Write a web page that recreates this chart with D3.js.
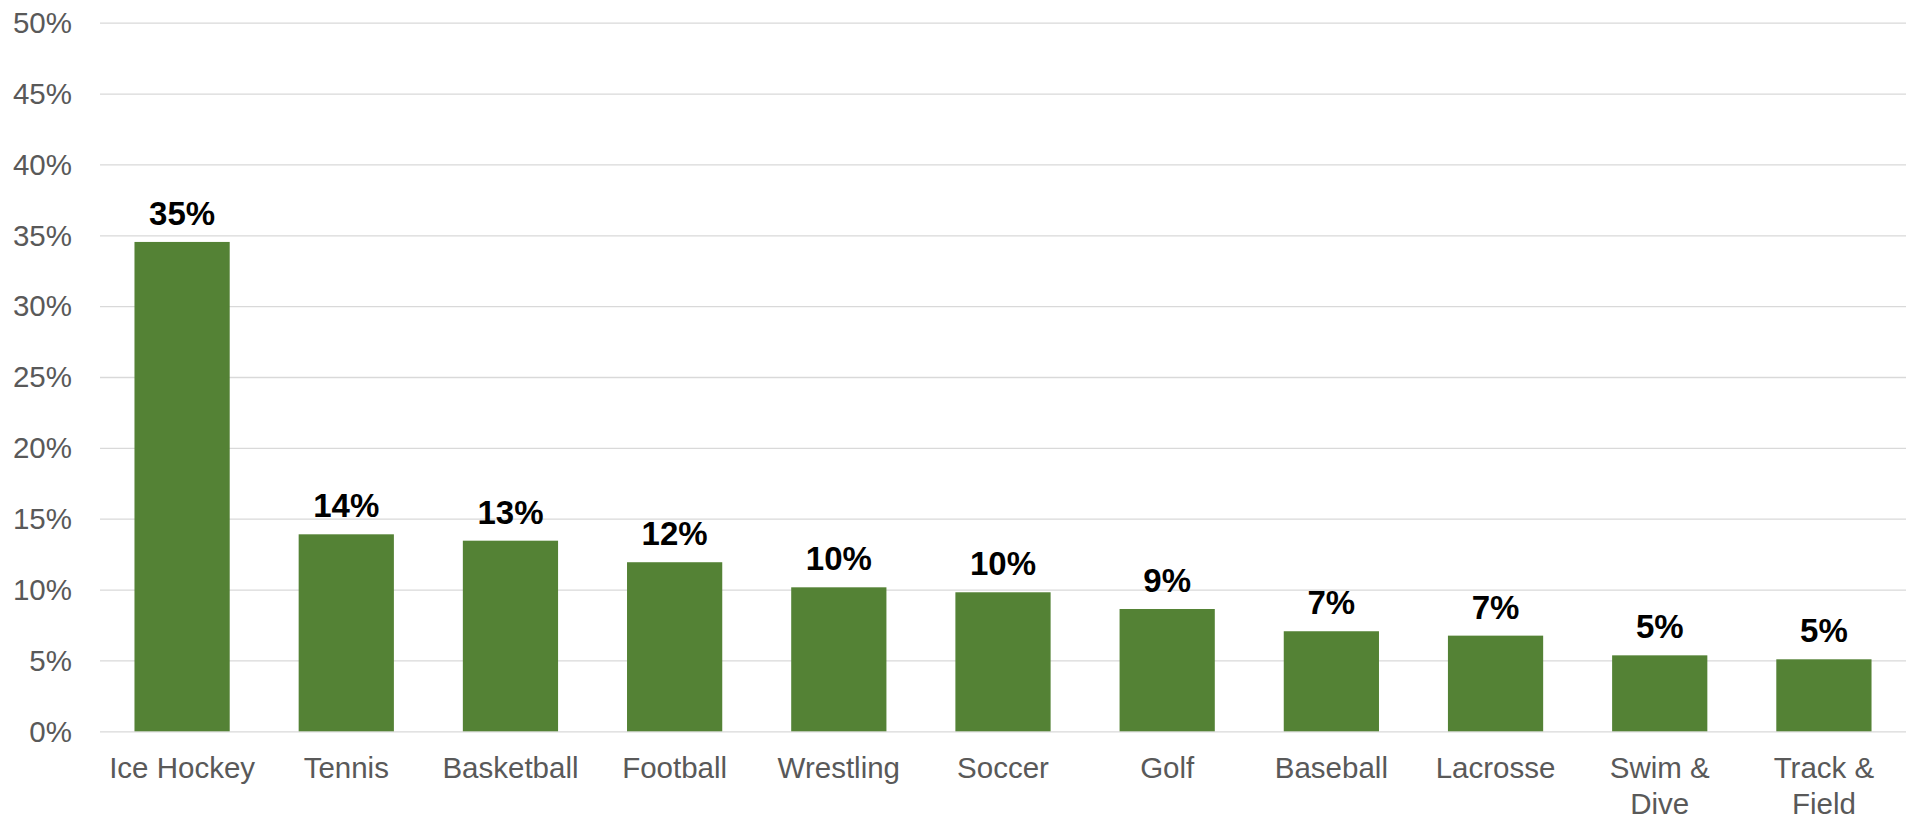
<!DOCTYPE html>
<html>

<head>
    <meta charset="utf-8" />
    <title>Sports Bar Chart</title>
    <script src="https://d3js.org/d3.v7.min.js"></script>
    <style>
        body { margin: 0; background: #fff; }
        text { font-family: "Liberation Sans", Arial, sans-serif; }
    </style>
</head>

<body>
    <svg width="1915" height="818"></svg>
    <script>
        // chart data
        const sports = ["Ice Hockey", "Tennis", "Basketball", "Football", "Wrestling",
            "Soccer", "Golf", "Baseball", "Lacrosse", "Swim & Dive", "Track & Field"];
        const shares = [0.3453, 0.139, 0.1345, 0.1193, 0.1016,
            0.0981, 0.0863, 0.0706, 0.0675, 0.0536, 0.0508];
        const yTicks = [0, 0.05, 0.1, 0.15, 0.2, 0.25, 0.3, 0.35, 0.4, 0.45, 0.5];

        const svg = d3.select("svg");
        const margin = { top: 22.7, left: 100, right: 9, bottom: 86.7 };
        const width = +svg.attr("width");
        const height = +svg.attr("height");

        const x = d3.scaleBand()
            .domain(sports)
            .range([margin.left, width - margin.right])
            .paddingInner(0.42)
            .paddingOuter(0.21);

        const y = d3.scaleLinear()
            .domain([0, 0.5])
            .range([height - margin.bottom, margin.top]);

        const pct = d3.format(".0%");

        // gridlines + y labels
        const yAxis = svg.append("g")
            .attr("transform", "translate(" + margin.left + ",0)")
            .call(d3.axisLeft(y)
                .tickValues(yTicks)
                .tickFormat(pct)
                .tickSize(-(width - margin.left - margin.right))
                .tickPadding(28));
        yAxis.select(".domain").remove();
        yAxis.selectAll("line").attr("stroke", "#d9d9d9").attr("stroke-width", 1.3);
        yAxis.selectAll("text")
            .attr("fill", "#595959")
            .attr("dy", "0.33em")
            .style("font-size", "29.5px");

        // bars
        svg.append("g")
            .selectAll("rect")
            .data(sports)
            .enter()
            .append("rect")
            .attr("x", (d) => x(d))
            .attr("y", (d, i) => y(shares[i]))
            .attr("width", x.bandwidth())
            .attr("height", (d, i) => y(0) - y(shares[i]))
            .attr("fill", "#548235");

        // value labels
        svg.append("g")
            .selectAll("text")
            .data(sports)
            .enter()
            .append("text")
            .attr("x", (d) => x(d) + x.bandwidth() / 2)
            .attr("y", (d, i) => y(shares[i]) - 17)
            .attr("text-anchor", "middle")
            .attr("font-weight", "bold")
            .style("font-size", "33px")
            .attr("fill", "#000")
            .text((d, i) => pct(shares[i]));

        // category labels
        const xAxis = svg.append("g")
            .attr("transform", "translate(0," + y(0) + ")")
            .call(d3.axisBottom(x).tickSize(0).tickPadding(0));
        xAxis.select(".domain").remove();
        xAxis.selectAll("text")
            .attr("fill", "#595959")
            .attr("y", 47)
            .attr("dy", 0)
            .style("font-size", "29.5px")
            .each(function (d) {
                const t = d3.select(this);
                if (this.getComputedTextLength() <= x.step()) return;
                // wrap long names onto two lines
                const words = d.split(" ");
                const first = words.slice(0, 2).join(" ");
                const second = words.slice(2).join(" ");
                t.text(null);
                t.append("tspan").attr("x", 0).attr("y", 47).text(first);
                t.append("tspan").attr("x", 0).attr("y", 47).attr("dy", 35.7).text(second);
            });
    </script>
</body>

</html>
